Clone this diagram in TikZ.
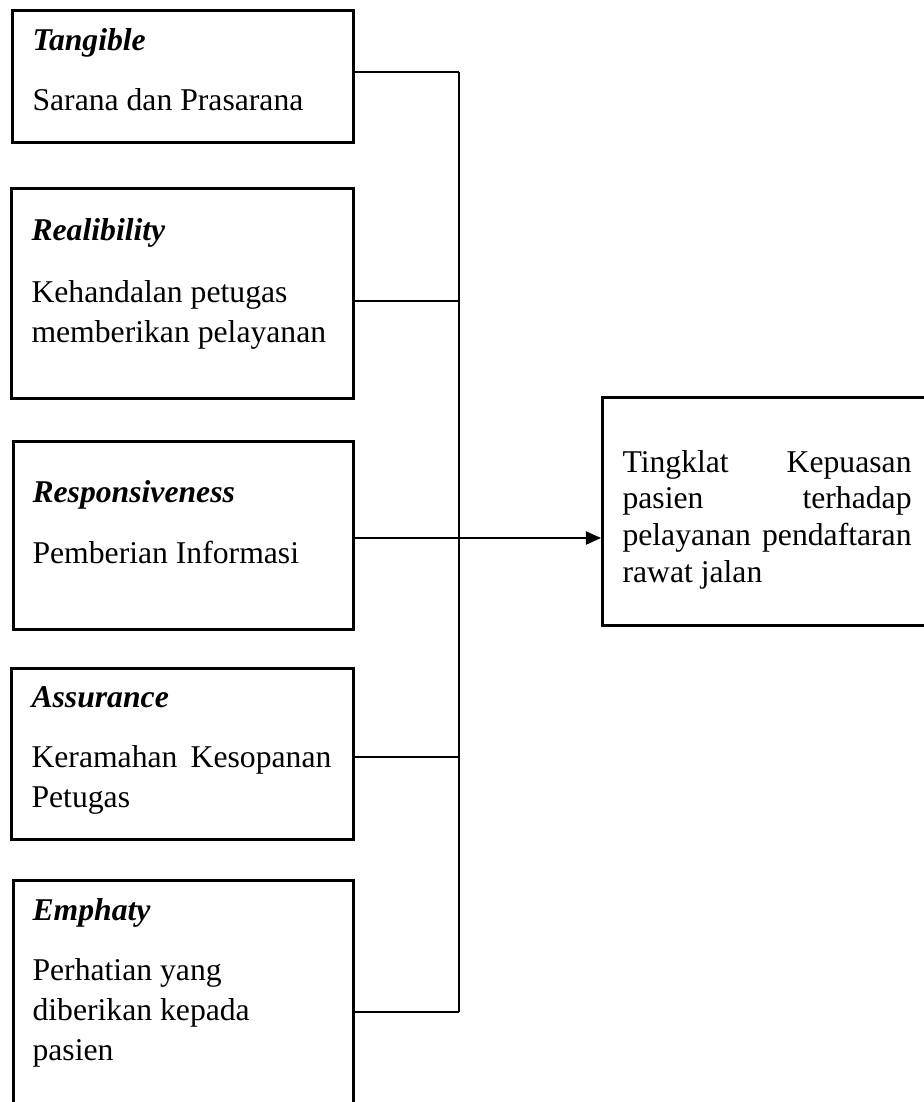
\documentclass[tikz,border=0pt]{standalone}
\usepackage{fontspec}
\setmainfont{Liberation Serif}
\usetikzlibrary{arrows.meta}

\begin{document}
\begin{tikzpicture}[x=0.3788pt, y=-0.3788pt, >={Triangle[length=5.7pt, width=5pt]},
    box/.style 2 args={draw, line width=1pt, anchor=north west, inner sep=0pt,
        minimum width=#1*0.3788pt, minimum height=#2*0.3788pt},
    head/.style={anchor=base west, inner sep=0pt, font=\fontsize{12}{15}\selectfont\bfseries\itshape},
    body/.style={anchor=base west, inner sep=0pt, align=left, font=\fontsize{12}{15}\selectfont},
    link/.style={line width=0.5pt}]
\useasboundingbox (0,0) rectangle (923,1102);
% dimensions
\node[box={341}{132}] (tang) at (11,9) {};
\node[box={342}{210}] (real) at (10,187) {};
\node[box={340}{188}] (resp) at (12,440) {};
\node[box={342}{171}] (assu) at (10,667) {};
\node[box={340}{266}] (emph) at (12,879) {};
\node[box={340}{228}] (puas) at (601,396) {};
% texts (multi-line: placed at the last baseline)
\node[head] (tang h) at (32,50) {Tangible};
\node[body] (tang b) at (32,110) {Sarana dan Prasarana};
\node[head] (real h) at (31,240) {Realibility};
\node[body] (real b) at (31,342) {Kehandalan petugas\\memberikan pelayanan};
\node[head] (resp h) at (32,502) {Responsiveness};
\node[body] (resp b) at (32,563) {Pemberian Informasi};
\node[head] (assu h) at (31,707) {Assurance};
\node[body] (assu b) at (31,807) {Keramahan\hspace{5pt}Kesopanan\\Petugas};
\node[head] (emph h) at (32,920) {Emphaty};
\node[body] (emph b) at (32,1060) {Perhatian yang\\diberikan kepada\\pasien};
\node[body, text width=109.5pt, align=justify,
    font={\fontsize{12}{14}\selectfont\hyphenpenalty=10000\relax}]
    (puas t) at (622,472) {Tingklat Kepuasan pasien terhadap pelayanan \mbox{pendaftaran} rawat jalan};
% connectors
\coordinate (j1) at (459,72);
\coordinate (j2) at (459,301);
\coordinate (j3) at (459,538);
\coordinate (j4) at (459,757);
\coordinate (j5) at (459,1012);
\draw[link] (j1) -- (j5);
\draw[link] (tang.east |- j1) -- (j1);
\draw[link] (real.east |- j2) -- (j2);
\draw[link] (assu.east |- j4) -- (j4);
\draw[link] (emph.east |- j5) -- (j5);
\draw[link, ->] (resp.east |- j3) -- (puas.west |- j3);
\end{tikzpicture}
\end{document}
